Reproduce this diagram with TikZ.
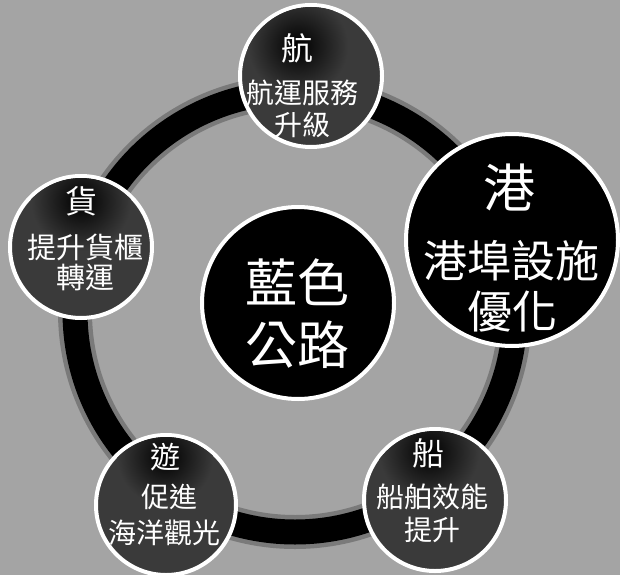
\documentclass[tikz,border=0pt]{standalone}
\usepackage{fontspec}
\newfontfamily\cjk{Noto Sans CJK TC}
\definecolor{bgcol}{HTML}{A4A4A4}
\definecolor{satfill}{HTML}{3A3A3A}
\tikzset{
  satellite/.style={circle, draw=white, line width=4pt, fill=satfill, inner sep=0pt},
  hub/.style={circle, draw=white, line width=4pt, fill=black, inner sep=0pt},
  txt/.style={text=white, inner sep=0pt, anchor=center},
  glow/.style={inner color=black, outer color=satfill},
}
\newcommand{\fs}[1]{\cjk\fontsize{#1}{#1}\selectfont}
\begin{document}
\begin{tikzpicture}[x=1pt,y=-1pt]
\fill[bgcol] (0,0) rectangle (620,575);
\useasboundingbox (0,0) rectangle (620,575);
% ring
\coordinate (rc) at (295,312);
\draw[black, opacity=0.25, line width=34pt] (rc) circle[radius=220pt];
\draw[black, line width=25pt] (rc) circle[radius=220pt];
% satellites
\node[satellite, minimum size=142pt] (hang) at (311,76) {};
\node[hub, minimum size=212pt] (gang) at (512,240) {};
\node[satellite, minimum size=142pt] (chuan) at (435,500) {};
\node[satellite, minimum size=140pt] (you) at (166,505) {};
\node[satellite, minimum size=142pt] (huo) at (81,247) {};
\node[hub, minimum size=192pt] (hubc) at (298,303) {};
% dark cores behind titles, kept inside their circles
\begin{scope}
  \clip (hang.center) circle[radius=69pt];
  \shade[glow] (298,46) circle[radius=50pt];
\end{scope}
\begin{scope}
  \clip (chuan.center) circle[radius=69pt];
  \shade[glow] (429,452) circle[radius=50pt];
\end{scope}
\begin{scope}
  \clip (you.center) circle[radius=68pt];
  \shade[glow] (165,457) circle[radius=48pt];
\end{scope}
\begin{scope}
  \clip (huo.center) circle[radius=69pt];
  \shade[glow] (81,201) circle[radius=50pt];
\end{scope}
% center text
\node[txt, font=\fs{52}] (c1) at (297,282) {藍色};
\node[txt, font=\fs{52}] (c2) at (297,345) {公路};
% 港
\node[txt, font=\fs{52}] (g0) at (509,188) {港};
\node[txt, font=\fs{44}] (g1) at (511,261) {港埠設施};
\node[txt, font=\fs{45}] (g2) at (512,312) {優化};
% 航
\node[txt, font=\fs{32}] (h0) at (297,48) {航};
\node[txt, font=\fs{28}] (h1) at (302,93) {航運服務};
\node[txt, font=\fs{28}] (h2) at (302,125) {升級};
% 船
\node[txt, font=\fs{32}] (s0) at (428,453) {船};
\node[txt, font=\fs{28}] (s1) at (432,497) {船舶效能};
\node[txt, font=\fs{28}] (s2) at (432,530) {提升};
% 遊
\node[txt, font=\fs{30}] (y0) at (165,457) {遊};
\node[txt, font=\fs{28}] (y1) at (169,497) {促進};
\node[txt, font=\fs{28}] (y2) at (164,533) {海洋觀光};
% 貨
\node[txt, font=\fs{32}] (f0) at (81,201) {貨};
\node[txt, font=\fs{29}] (f1) at (85,247) {提升貨櫃};
\node[txt, font=\fs{29}] (f2) at (85,278) {轉運};
\end{tikzpicture}
\end{document}
